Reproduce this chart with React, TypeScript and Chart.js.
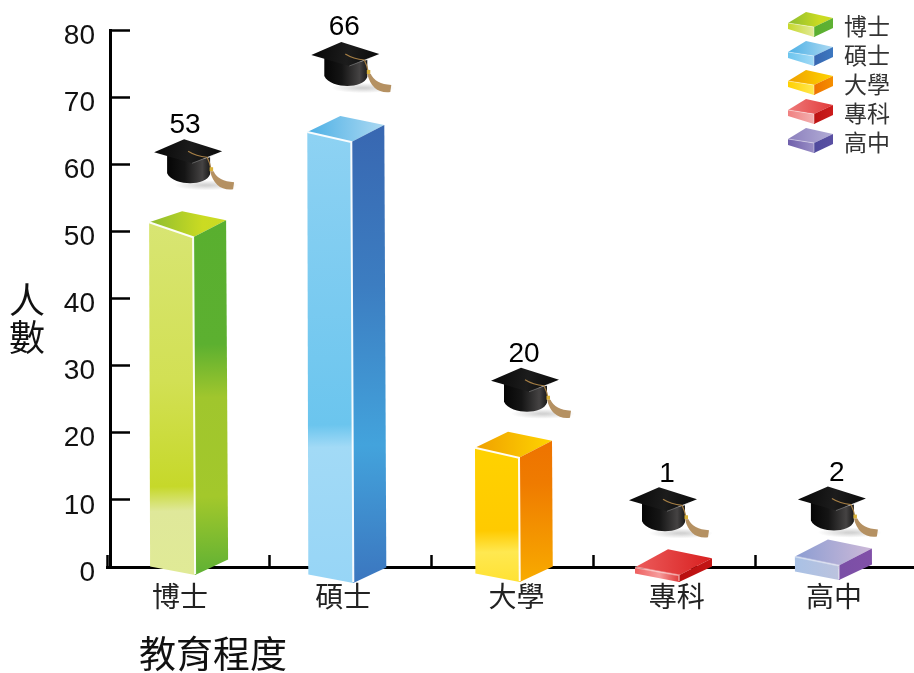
import React, { useEffect, useRef } from "react";
import { Chart, registerables } from "chart.js";

Chart.register(...registerables);

// Data
const categories = ["博士", "碩士", "大學", "專科", "高中"];
const counts = [53, 66, 20, 1, 2];
const yTicks = [0, 10, 20, 30, 40, 50, 60, 70, 80];
const xTitle = "教育程度";
const yTitle = ["人", "數"];

// Per-bar placement of the hand-laid 3D artwork, relative to the scale positions
const apexDx = [-6, -10, -4.5, -6.7, -9];
const apexDy = [0, -8, -1, -11, -14];
const baseDrop = [0, 8, 7, 7, 5];
const leftCornerDrop = [11, 16, 16, 18, 17];
const hatDx = [2, 1, 13, -9, 0];
const hatDy = [-72, -74, -64, -62, -53];
const labelDx = [1, 3, 3, 8, 9];
const labelDy = [-14, -15, -13, -13, -13];
const tickNudge = [-8, -7, 4, 2, -3];

const CJK = '"Noto Sans CJK TC", "Noto Sans CJK JP", sans-serif';
const LATIN = '"Liberation Sans", Arial, sans-serif';

type Stops = [number, string][];
type Paint = { horizontal?: boolean; stops: Stops };
type Faces = { top: Paint; front: Paint; side: Paint };

const barFaces: Faces[] = [
  {
    top: { horizontal: true, stops: [[0, "#8cbc30"], [0.7, "#cbdb22"], [1, "#c9da24"]] },
    front: { stops: [[0, "#d8e573"], [0.45, "#d2e054"], [0.75, "#c6d82a"], [0.82, "#dfe89a"], [1, "#e0ea96"]] },
    side: { stops: [[0, "#59af2f"], [0.35, "#5cb030"], [0.5, "#a0c62d"], [0.78, "#a3c82b"], [1, "#5fb134"]] },
  },
  {
    top: { horizontal: true, stops: [[0, "#4db0e5"], [1, "#acd9f2"]] },
    front: { stops: [[0, "#8ed2f3"], [0.65, "#6bc5ee"], [0.7, "#a2daf6"], [1, "#97d5f6"]] },
    side: { stops: [[0, "#3867b1"], [0.35, "#3c7dc1"], [0.7, "#43a3dc"], [1, "#3b76bf"]] },
  },
  {
    top: { horizontal: true, stops: [[0, "#efa000"], [1, "#ffd400"]] },
    front: { stops: [[0, "#ffd200"], [0.62, "#ffca00"], [0.78, "#ffe850"], [1, "#ffe234"]] },
    side: { stops: [[0, "#ee7300"], [0.3, "#ef7b00"], [1, "#f8ab00"]] },
  },
  {
    top: { horizontal: true, stops: [[0, "#ec5c5c"], [1, "#d81f1f"]] },
    front: { horizontal: true, stops: [[0, "#ee6060"], [0.55, "#f69c9c"], [1, "#e03a3a"]] },
    side: { horizontal: true, stops: [[0, "#b80f0f"], [1, "#c51616"]] },
  },
  {
    top: { horizontal: true, stops: [[0, "#8b9dd2"], [1, "#cdb9d8"]] },
    front: { horizontal: true, stops: [[0, "#a9c1e5"], [1, "#bcc3de"]] },
    side: { horizontal: true, stops: [[0, "#7a4fa6"], [1, "#8150a8"]] },
  },
];

const swatchFaces: Faces[] = [
  {
    top: barFaces[0].top,
    front: { horizontal: true, stops: [[0, "#c6d82a"], [1, "#e2ea9a"]] },
    side: { horizontal: true, stops: [[0, "#59af2f"], [1, "#5fb134"]] },
  },
  {
    top: barFaces[1].top,
    front: { horizontal: true, stops: [[0, "#6cc5ee"], [1, "#a2daf6"]] },
    side: { horizontal: true, stops: [[0, "#3867b1"], [1, "#3c78c0"]] },
  },
  {
    top: barFaces[2].top,
    front: { horizontal: true, stops: [[0, "#ffd000"], [1, "#ffe850"]] },
    side: { horizontal: true, stops: [[0, "#ee7300"], [1, "#f58f00"]] },
  },
  {
    top: { horizontal: true, stops: [[0, "#ee7a7a"], [1, "#e23a3a"]] },
    front: { horizontal: true, stops: [[0, "#f08080"], [1, "#f3b0b0"]] },
    side: { horizontal: true, stops: [[0, "#bc1212"], [1, "#cc1c1c"]] },
  },
  {
    top: { horizontal: true, stops: [[0, "#8c80bd"], [1, "#b2acd6"]] },
    front: { horizontal: true, stops: [[0, "#6f5fab"], [1, "#9a8fc6"]] },
    side: { horizontal: true, stops: [[0, "#4f4a9c"], [1, "#5a4fa3"]] },
  },
];

type Geo = { lx: number; ly: number; fx: number; fy: number; rx: number; ry: number; dropF: number; dropR: number };
const barGeo: Geo = { lx: -33, ly: 15, fx: 11, fy: 26, rx: 44, ry: 9, dropF: 8.5, dropR: -7 };
const swatchGeo: Geo = { lx: -18, ly: 11, fx: 8, fy: 15, rx: 27, ry: 6, dropF: 8, dropR: -1 };

function fillFace(ctx: CanvasRenderingContext2D, pts: number[][], paint: Paint) {
  const xs = pts.map((p) => p[0]);
  const ys = pts.map((p) => p[1]);
  const x0 = Math.min(...xs);
  const x1 = Math.max(...xs);
  const y0 = Math.min(...ys);
  const y1 = Math.max(...ys);
  const g = paint.horizontal
    ? ctx.createLinearGradient(x0, y0, x1, y0)
    : ctx.createLinearGradient(x0, y0, x0 + (y1 - y0) * 0.02, y1);
  paint.stops.forEach(([o, c]) => g.addColorStop(o, c));
  ctx.fillStyle = g;
  ctx.beginPath();
  pts.forEach((p, i) => (i ? ctx.lineTo(p[0], p[1]) : ctx.moveTo(p[0], p[1])));
  ctx.closePath();
  ctx.fill();
}

// Box in fixed cabinet projection: (ax, ay) is the far top corner, baseY the near-left foot.
function drawBox(
  ctx: CanvasRenderingContext2D,
  ax: number,
  ay: number,
  baseY: number,
  geo: Geo,
  faces: Faces,
  edge: number
) {
  const L = [ax + geo.lx, ay + geo.ly];
  const F = [ax + geo.fx, ay + geo.fy];
  const R = [ax + geo.rx, ay + geo.ry];
  const rise = baseY - L[1];
  const shear = Math.min(2, rise * 0.006);
  const LB = [L[0] + shear * 0.5, baseY];
  const FB = [F[0] + shear, baseY + geo.dropF];
  const RB = [R[0] + shear, baseY + geo.dropR];
  fillFace(ctx, [[ax, ay], R, F, L], faces.top);
  fillFace(ctx, [L, F, FB, LB], faces.front);
  fillFace(ctx, [F, R, RB, FB], faces.side);
  // Highlight along the near edges, faint on thin slabs.
  ctx.strokeStyle = rise < 40 ? "rgba(255,255,255,0.4)" : "rgba(255,255,255,0.95)";
  ctx.lineWidth = edge;
  ctx.beginPath();
  ctx.moveTo(L[0], L[1]);
  ctx.lineTo(F[0], F[1]);
  ctx.lineTo(FB[0], FB[1] - 1);
  ctx.stroke();
}

// Mortarboard, origin at the rear tip of the board.
function drawHat(ctx: CanvasRenderingContext2D, x: number, y: number) {
  ctx.save();
  ctx.translate(x, y);

  // faint cast shadow under the skull and tassel
  ctx.save();
  ctx.translate(22, 46);
  ctx.scale(1, 0.16);
  const shade = ctx.createRadialGradient(0, 0, 4, 0, 0, 32);
  shade.addColorStop(0, "rgba(130,130,130,0.35)");
  shade.addColorStop(1, "rgba(130,130,130,0)");
  ctx.fillStyle = shade;
  ctx.beginPath();
  ctx.arc(0, 0, 32, 0, Math.PI * 2);
  ctx.fill();
  ctx.restore();

  // skull
  const skull = ctx.createLinearGradient(-17, 0, 27, 0);
  skull.addColorStop(0, "#050505");
  skull.addColorStop(0.4, "#151515");
  skull.addColorStop(0.8, "#454343");
  skull.addColorStop(1, "#161616");
  ctx.fillStyle = skull;
  ctx.beginPath();
  ctx.moveTo(-17, 16);
  ctx.lineTo(-17, 34);
  ctx.bezierCurveTo(-14, 41, -2, 44, 6, 44);
  ctx.bezierCurveTo(15, 44, 24, 41, 26, 35);
  ctx.lineTo(26, 18);
  ctx.lineTo(8, 22);
  ctx.closePath();
  ctx.fill();

  // board
  const board = ctx.createLinearGradient(-30, 0, 38, 12);
  board.addColorStop(0, "#060606");
  board.addColorStop(0.55, "#1c1c1c");
  board.addColorStop(1, "#0b0b0b");
  ctx.fillStyle = board;
  ctx.beginPath();
  ctx.moveTo(0, 0);
  ctx.lineTo(38, 12);
  ctx.lineTo(8, 24);
  ctx.lineTo(-30, 13);
  ctx.closePath();
  ctx.fill();
  ctx.strokeStyle = "rgba(190,190,190,0.55)";
  ctx.lineWidth = 0.7;
  ctx.beginPath();
  ctx.moveTo(8, 24);
  ctx.lineTo(30, 15.5);
  ctx.stroke();

  // cord and tassel
  ctx.strokeStyle = "#a67f45";
  ctx.lineWidth = 1.2;
  ctx.beginPath();
  ctx.moveTo(4, 12);
  ctx.quadraticCurveTo(12, 17, 23, 18);
  ctx.quadraticCurveTo(26, 24, 27, 30);
  ctx.stroke();
  ctx.fillStyle = "#d8b13a";
  ctx.fillRect(25.5, 28, 3.5, 4);
  ctx.fillStyle = "#b59162";
  ctx.beginPath();
  ctx.moveTo(26, 32);
  ctx.lineTo(29.5, 32);
  ctx.quadraticCurveTo(34, 42, 50, 43);
  ctx.lineTo(49, 50);
  ctx.quadraticCurveTo(31, 52, 26, 32);
  ctx.closePath();
  ctx.fill();
  ctx.restore();
}

const artworkPlugin = {
  id: "artwork",
  afterLayout(chart: any) {
    const { x, y } = chart.scales;
    // The vertical axis line sits just right of the first category boundary,
    // and its top tick reaches the same height regardless of label overflow.
    y.right += 3;
    y.top = 30;
    y.height = y.bottom - y.top;
    y.configure();
    // The last category runs past the page edge.
    x.right = 918;
    x.width = x.right - x.left;
    x.configure();
  },
  afterDatasetsDraw(chart: any) {
    const ctx: CanvasRenderingContext2D = chart.ctx;
    const bars = chart.getDatasetMeta(0).data;
    const xScale = chart.scales.x;
    ctx.save();
    bars.forEach((bar: any, i: number) => {
      const ax = bar.x + apexDx[i];
      const ay = bar.y + apexDy[i];
      drawBox(ctx, ax, ay, bar.base + baseDrop[i], { ...barGeo, ly: leftCornerDrop[i] }, barFaces[i], 2);
      const hx = ax + hatDx[i];
      const hy = ay + hatDy[i];
      drawHat(ctx, hx, hy);
      ctx.fillStyle = "#000";
      ctx.font = `28px ${LATIN}`;
      ctx.textAlign = "center";
      ctx.textBaseline = "middle";
      ctx.fillText(String(counts[i]), hx + labelDx[i], hy + labelDy[i]);
    });

    // category labels
    ctx.font = `28px ${CJK}`;
    ctx.fillStyle = "#222";
    ctx.textAlign = "center";
    ctx.textBaseline = "middle";
    categories.forEach((c, i) => {
      ctx.fillText(c, xScale.getPixelForValue(i) + tickNudge[i], 596);
    });

    // axis titles
    ctx.fillStyle = "#111";
    ctx.font = `37px ${CJK}`;
    ctx.textAlign = "left";
    ctx.fillText(xTitle, 139, 654);
    ctx.font = `36px ${CJK}`;
    ctx.textAlign = "center";
    yTitle.forEach((t, i) => ctx.fillText(t, 27, 300 + i * 37));

    // legend
    categories.forEach((c, i) => {
      const y = 12 + i * 29;
      drawBox(ctx, 806, y, y + 17, swatchGeo, swatchFaces[i], 1);
      ctx.fillStyle = "#333";
      ctx.font = `23px ${CJK}`;
      ctx.textAlign = "left";
      ctx.fillText(c, 844, y + 14);
    });
    ctx.restore();
  },
};

export default function App() {
  const ref = useRef<HTMLCanvasElement>(null);
  useEffect(() => {
    const chart = new Chart(ref.current!, {
      type: "bar",
      data: {
        labels: categories,
        datasets: [{ data: counts, backgroundColor: "rgba(0,0,0,0)", borderWidth: 0 }],
      },
      plugins: [artworkPlugin],
      options: {
        animation: false,
        responsive: false,
        layout: { padding: { top: 8, right: 0, left: 0, bottom: 0 } },
        plugins: { legend: { display: false }, tooltip: { enabled: false } },
        scales: {
          x: {
            type: "category",
            grid: { drawOnChartArea: false, tickLength: -12, tickWidth: 2.5, tickColor: "#000" },
            border: { color: "#000", width: 3 },
            ticks: { display: false },
            afterFit: (s: any) => {
              s.height = 673 - 567;
            },
          },
          y: {
            type: "linear",
            min: yTicks[0],
            max: yTicks[yTicks.length - 1],
            afterBuildTicks: (s: any) => {
              s.ticks = yTicks.map((value) => ({ value }));
            },
            grid: { drawOnChartArea: false, tickLength: -20, tickWidth: 2.5, tickColor: "#000" },
            border: { color: "#000", width: 3 },
            ticks: { color: "#111", font: { family: LATIN, size: 28 }, padding: 35, labelOffset: 6 },
            afterFit: (s: any) => {
              s.width = 107;
            },
          },
        },
      } as any,
    });
    return () => chart.destroy();
  }, []);
  return (
    <div style={{ position: "fixed", left: 0, top: 0, width: 914, height: 673, background: "#fff" }}>
      <canvas ref={ref} width={914} height={673} style={{ display: "block" }} />
    </div>
  );
}
